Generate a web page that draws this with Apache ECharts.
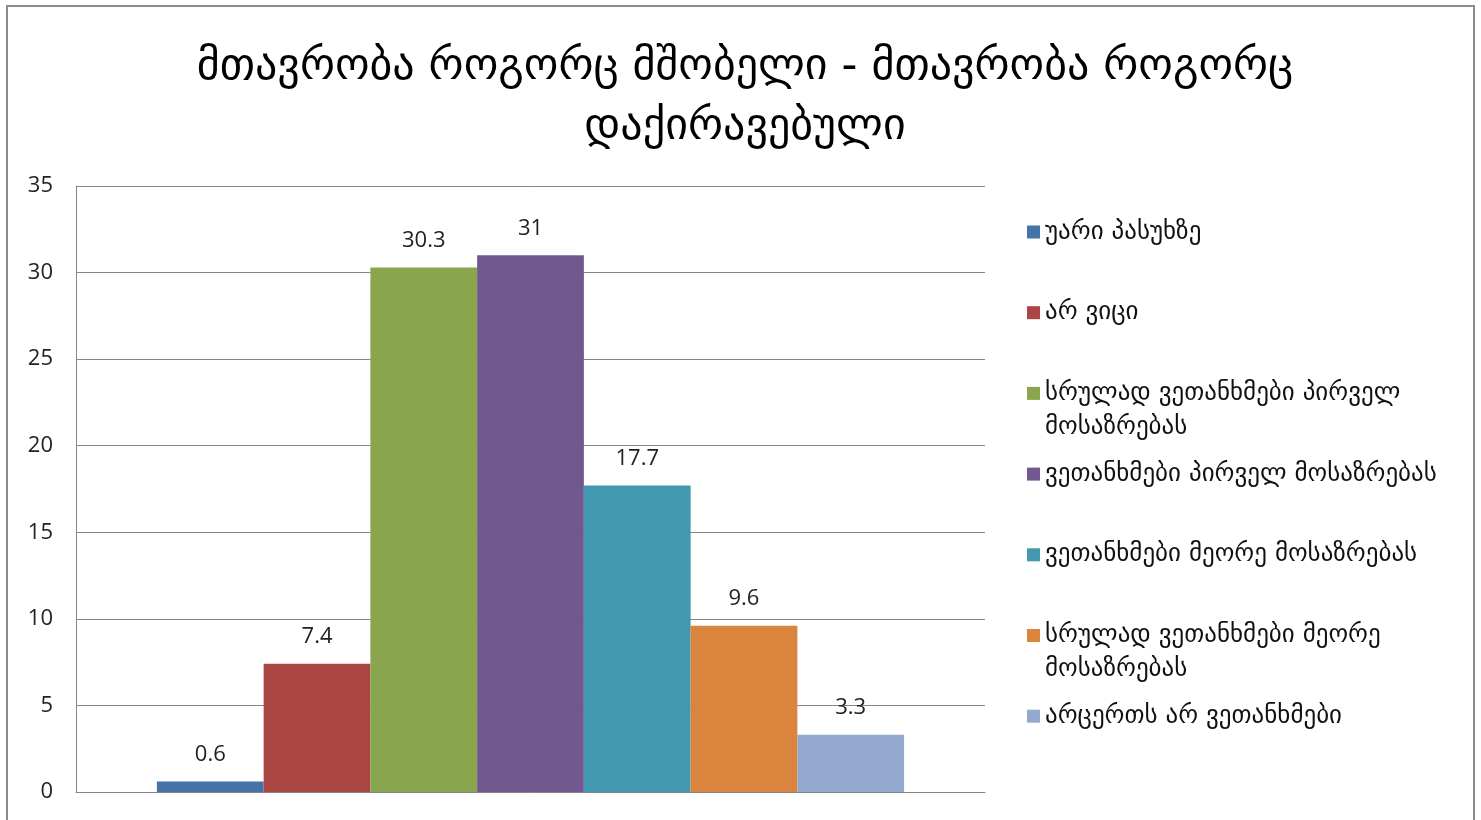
<!DOCTYPE html>
<html>
<head>
<meta charset="utf-8">
<script src="https://cdn.jsdelivr.net/npm/echarts@6/dist/echarts.min.js"></script>
<style>
  html, body { margin: 0; padding: 0; background: #fff; }
  #main { width: 1481px; height: 820px; }
</style>
</head>
<body>
<div id="main"></div>
<script>
// სათაური და მონაცემები
const titleText = 'მთავრობა როგორც მშობელი - მთავრობა როგორც\nდაქირავებული';
const seriesNames = [
  'უარი პასუხზე',
  'არ ვიცი',
  'სრულად ვეთანხმები პირველ\nმოსაზრებას',
  'ვეთანხმები პირველ მოსაზრებას',
  'ვეთანხმები მეორე მოსაზრებას',
  'სრულად ვეთანხმები მეორე\nმოსაზრებას',
  'არცერთს არ ვეთანხმები'
];
const seriesValues = [0.6, 7.4, 30.3, 31, 17.7, 9.6, 3.3];
const colors = ['#4572A7', '#AA4643', '#89A54E', '#71588F', '#4198AF', '#DB843D', '#93A9CF'];

const font = '"DejaVu Sans", "Open Sans", sans-serif';
const numFont = '"Open Sans", "DejaVu Sans", sans-serif';

const chart = echarts.init(document.getElementById('main'));

// თითო ლეგენდა თითო სერიისთვის, რომ პირველი ხაზები თანაბრად იყოს დაშორებული
const legendLine = 34;
const legends = seriesNames.map((name, i) => {
  const twoLines = name.indexOf('\n') >= 0;
  const center = 232 + i * 80.7;
  return {
    orient: 'vertical',
    left: 1027,
    top: twoLines ? center - legendLine * 1.5 : center - legendLine / 2,
    padding: 0,
    itemWidth: 13,
    itemHeight: 13,
    itemGap: 0,
    icon: 'rect',
    data: [name],
    selectedMode: false,
    // ზედა ცარიელი ხაზი, რომ მარკერი პირველ ხაზთან იყოს
    formatter: twoLines ? '\n{name}' : '{name}',
    textStyle: {
      fontFamily: font,
      fontSize: 25,
      color: '#111',
      lineHeight: legendLine
    }
  };
});

const option = {
  backgroundColor: '#fff',
  animation: false,
  color: colors,
  title: {
    text: titleText,
    left: 740,
    textAlign: 'center',
    top: 33,
    textStyle: {
      fontFamily: font,
      fontSize: 44,
      fontWeight: 'normal',
      color: '#000',
      lineHeight: 60
    }
  },
  legend: legends,
  grid: { left: 76, right: 496, top: 186, bottom: 28 },
  xAxis: {
    type: 'category',
    data: [''],
    axisLine: { show: true, lineStyle: { color: '#868686', width: 1 } },
    axisTick: { show: false },
    axisLabel: { show: false }
  },
  yAxis: {
    type: 'value',
    min: 0,
    max: 35,
    interval: 5,
    axisLine: { show: true, lineStyle: { color: '#868686', width: 1 } },
    axisTick: { show: false },
    axisLabel: { fontFamily: numFont, fontSize: 22, color: '#222', margin: 23 },
    splitLine: { show: true, lineStyle: { color: '#868686', width: 1 } }
  },
  series: seriesNames.map((name, i) => ({
    name: name,
    type: 'bar',
    data: [seriesValues[i]],
    barGap: 0,
    barCategoryGap: '17.8%',
    label: {
      show: true,
      position: 'top',
      distance: 16,
      fontFamily: numFont,
      fontSize: 22,
      color: '#222'
    }
  })),
  graphic: [{
    type: 'rect',
    shape: { x: 7, y: 6, width: 1467, height: 840 },
    style: { fill: 'none', stroke: '#8c8c8c', lineWidth: 2 },
    silent: true
  }]
};

chart.setOption(option);
window.addEventListener('resize', function () {
  chart.resize();
});
</script>
</body>
</html>
